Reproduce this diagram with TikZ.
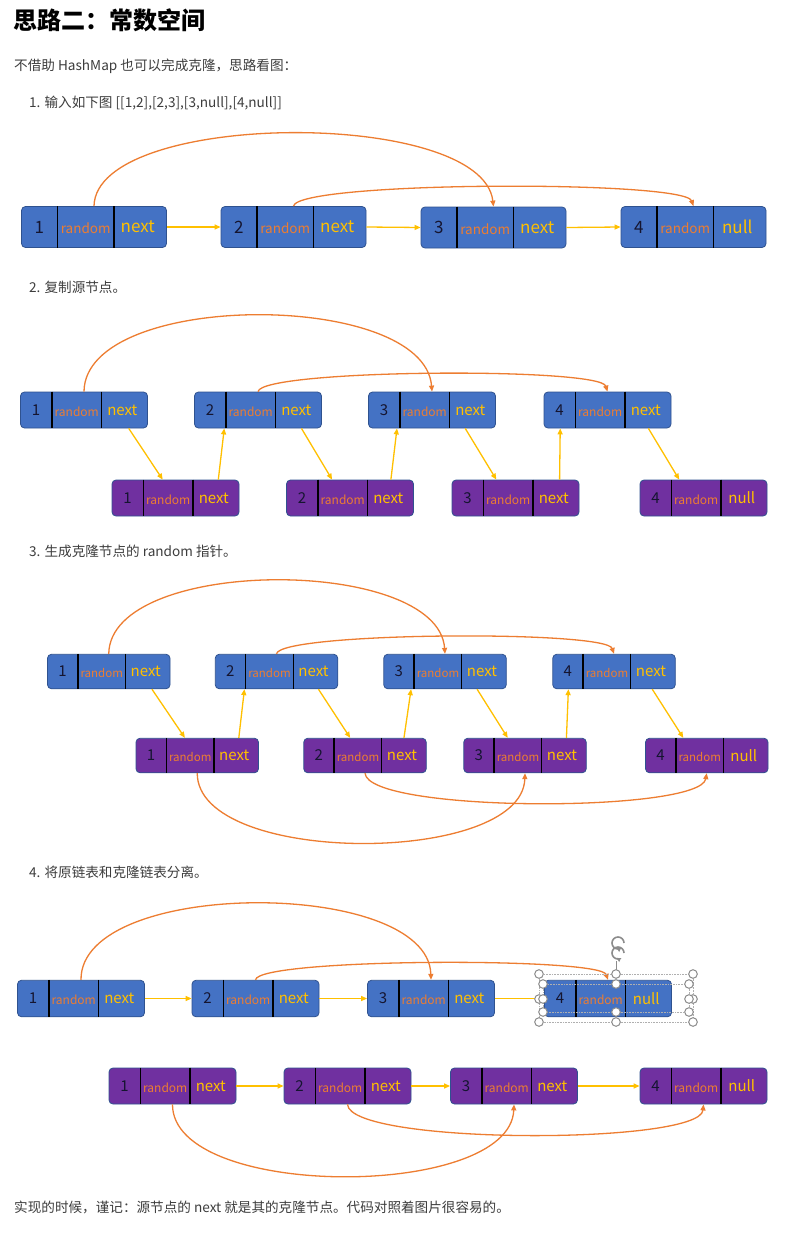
\documentclass[tikz,border=0pt]{standalone}
\usepackage{fontspec}
\newfontfamily\cjk{Noto Sans CJK SC}
\usetikzlibrary{arrows.meta,calc}
\definecolor{bluefill}{HTML}{4472C4}
\definecolor{boxline}{HTML}{2F528F}
\definecolor{purplefill}{HTML}{7030A0}
\definecolor{randc}{HTML}{ED7D31}
\definecolor{nextc}{HTML}{FFC000}
\definecolor{numc}{HTML}{151530}
\definecolor{bodyc}{HTML}{3D3D3D}
\definecolor{handlec}{HTML}{8C8C8C}
\newcommand\fsN{17}
\newcommand\fsR{13.5}
\newcommand\fsX{17}
\tikzset{
  cellbox/.style={draw=boxline, line width=0.8pt, rounded corners=4pt, inner sep=0pt},
  divider/.style={draw=black, line width=1.4pt},
  numlab/.style={font=\cjk\fontsize{\fsN}{\fsN}\selectfont, text=numc, inner sep=0pt},
  randlab/.style={font=\cjk\fontsize{\fsR}{\fsR}\selectfont, text=randc, inner sep=0pt, yshift=-1.5pt},
  nextlab/.style={font=\cjk\fontsize{\fsX}{\fsX}\selectfont, text=nextc, inner sep=0pt},
  nxt/.style={draw=nextc, line width=1.3pt, -{Triangle[length=6pt,width=5pt]}},
  rnd/.style={draw=randc, line width=1.3pt, -{Triangle[length=6pt,width=5pt]}},
  bodytext/.style={font=\cjk\fontsize{13.6}{16}\selectfont, text=bodyc, anchor=west, inner sep=0pt},
  handle/.style={draw=handlec, fill=white, line width=1pt},
  selrect/.style={draw=handlec!70, line width=0.6pt, densely dotted},
  roticon/.style={draw=handlec, line width=1.6pt, -{Triangle[length=3.5pt,width=4.5pt]}},
}
% name, position, width, height, fill, number, last field
\newcommand\LLnode[7]{%
  \node[cellbox, fill=#5, minimum width=#3pt, minimum height=#4pt] (#1) at (#2) {};
  \draw[divider] ($(#1.north west)!0.25!(#1.north east)$) -- ($(#1.south west)!0.25!(#1.south east)$);
  \draw[divider] ($(#1.north west)!0.636!(#1.north east)$) -- ($(#1.south west)!0.636!(#1.south east)$);
  \node[numlab] (#1-num) at ($(#1.west)!0.125!(#1.east)$) {#6};
  \node[randlab] (#1-rand) at ($(#1.west)!0.443!(#1.east)$) {random};
  \node[nextlab] (#1-next) at ($(#1.west)!0.80!(#1.east)$) {#7};
}
\newcommand\Pt[3]{($(#1.#2 west)!#3!(#1.#2 east)$)}
\begin{document}
\begin{tikzpicture}[x=1pt,y=-1pt]
\useasboundingbox (0,0) rectangle (786,1234);
\fill[white] (0,0) rectangle (786,1234);

% ---------- texts ----------
\node[anchor=west, inner sep=0pt, font=\cjk\bfseries\fontsize{24}{28}\selectfont, text=black] (title) at (13,20) {思路二：常数空间};
\node[bodytext] (intro) at (14,66) {不借助 HashMap 也可以完成克隆，思路看图：};
\node[bodytext] (step1) at (29,103) {1. 输入如下图 [[1,2],[2,3],[3,null],[4,null]]};
\node[bodytext] (step2) at (29,287) {2. 复制源节点。};
\node[bodytext] (step3) at (29,551) {3. 生成克隆节点的 random 指针。};
\node[bodytext] (step4) at (29,872) {4. 将原链表和克隆链表分离。};
\node[bodytext] (outro) at (14,1207) {实现的时候，谨记：源节点的 next 就是其的克隆节点。代码对照着图片很容易的。};

% ---------- section 1 ----------
\LLnode{a1}{94,227}{145}{41}{bluefill}{1}{next}
\LLnode{a2}{293.5,227}{145}{41}{bluefill}{2}{next}
\LLnode{a3}{493.5,227.5}{145}{41}{bluefill}{3}{next}
\LLnode{a4}{693.5,227}{145}{41}{bluefill}{4}{null}
\draw[nxt] (a1.east) -- (a2.west);
\draw[nxt] (a2.east) -- (a3.west);
\draw[nxt] (a3.east) -- (a4.west);
\draw[rnd] (a1.north) .. controls (96,110) and (482,108) .. (a3.north);
\draw[rnd] (a2.north) .. controls (298,181) and (684,180) .. (a4.north);

% ---------- section 2 ----------
\renewcommand\fsN{15}\renewcommand\fsR{12}\renewcommand\fsX{15}
\LLnode{b1}{84,410}{127}{36}{bluefill}{1}{next}
\LLnode{b2}{258,410}{127}{36}{bluefill}{2}{next}
\LLnode{b3}{432,410}{127}{36}{bluefill}{3}{next}
\LLnode{b4}{607.5,410}{127}{36}{bluefill}{4}{next}
\LLnode{c1}{175.5,498}{127}{36}{purplefill}{1}{next}
\LLnode{c2}{350,498}{127}{36}{purplefill}{2}{next}
\LLnode{c3}{515.5,498}{127}{36}{purplefill}{3}{next}
\LLnode{c4}{703.5,498}{127}{36}{purplefill}{4}{null}
\draw[nxt] \Pt{b1}{south}{0.85} -- \Pt{c1}{north}{0.40};
\draw[nxt] \Pt{c1}{north}{0.835} -- \Pt{b2}{south}{0.236};
\draw[nxt] \Pt{b2}{south}{0.84} -- \Pt{c2}{north}{0.36};
\draw[nxt] \Pt{c2}{north}{0.82} -- \Pt{b3}{south}{0.226};
\draw[nxt] \Pt{b3}{south}{0.76} -- \Pt{c3}{north}{0.35};
\draw[nxt] \Pt{c3}{north}{0.845} -- \Pt{b4}{south}{0.13};
\draw[nxt] \Pt{b4}{south}{0.82} -- \Pt{c4}{north}{0.31};
\draw[rnd] (b1.north) .. controls (85,290) and (424,290) .. (b3.north);
\draw[rnd] (b2.north) .. controls (262,369) and (600,367) .. (b4.north);

% ---------- section 3 ----------
\renewcommand\fsN{15}\renewcommand\fsR{11.5}\renewcommand\fsX{15}
\LLnode{d1}{108.75,671.5}{122.5}{34.5}{bluefill}{1}{next}
\LLnode{d2}{276.5,671.5}{122.5}{34.5}{bluefill}{2}{next}
\LLnode{d3}{445,671.5}{122.5}{34.5}{bluefill}{3}{next}
\LLnode{d4}{614,671.5}{122.5}{34.5}{bluefill}{4}{next}
\LLnode{e1}{197.25,755.5}{122.5}{34.5}{purplefill}{1}{next}
\LLnode{e2}{365,755.5}{122.5}{34.5}{purplefill}{2}{next}
\LLnode{e3}{525,755.5}{122.5}{34.5}{purplefill}{3}{next}
\LLnode{e4}{706.75,755.5}{122.5}{34.5}{purplefill}{4}{null}
\draw[nxt] \Pt{d1}{south}{0.85} -- \Pt{e1}{north}{0.40};
\draw[nxt] \Pt{e1}{north}{0.837} -- \Pt{d2}{south}{0.24};
\draw[nxt] \Pt{d2}{south}{0.84} -- \Pt{e2}{north}{0.38};
\draw[nxt] \Pt{e2}{north}{0.816} -- \Pt{d3}{south}{0.225};
\draw[nxt] \Pt{d3}{south}{0.76} -- \Pt{e3}{north}{0.36};
\draw[nxt] \Pt{e3}{north}{0.836} -- \Pt{d4}{south}{0.13};
\draw[nxt] \Pt{d4}{south}{0.81} -- \Pt{e4}{north}{0.31};
\draw[rnd] (d1.north) .. controls (110,556) and (438,556) .. (d3.north);
\draw[rnd] (d2.north) .. controls (280,632) and (606,630) .. (d4.north);
\draw[rnd] (e1.south) .. controls (197,866) and (522,866) .. (e3.south);
\draw[rnd] (e2.south) .. controls (368,813) and (700,813) .. (e4.south);

% ---------- section 4 ----------
\renewcommand\fsN{15}\renewcommand\fsR{12}\renewcommand\fsX{15}
\LLnode{f1}{81,998.5}{127}{36.5}{bluefill}{1}{next}
\LLnode{f2}{255.5,998.5}{127}{36.5}{bluefill}{2}{next}
\LLnode{f3}{431,998.5}{127}{36.5}{bluefill}{3}{next}
\draw[nxt] (f1.east) -- (f2.west);
\draw[nxt] (f2.east) -- (f3.west);
\LLnode{f4}{608,998.5}{127}{36.5}{bluefill}{4}{null}
\draw[nxt] (f3.east) -- (f4.west);
\LLnode{g1}{172.5,1086}{127}{36}{purplefill}{1}{next}
\LLnode{g2}{347.5,1086}{127}{36}{purplefill}{2}{next}
\LLnode{g3}{514,1086}{127}{36}{purplefill}{3}{next}
\LLnode{g4}{703.5,1086}{127}{36}{purplefill}{4}{null}
\draw[nxt] (g1.east) -- (g2.west);
\draw[nxt] (g2.east) -- (g3.west);
\draw[nxt] (g3.east) -- (g4.west);
\draw[rnd] (f1.north) .. controls (80,878) and (428,878) .. (f3.north);
\draw[rnd] (f2.north) .. controls (258,958) and (600,957) .. (f4.north);
\draw[rnd] (g1.south) .. controls (172,1200) and (510,1200) .. (g3.south);
\draw[rnd] (g2.south) .. controls (350,1145) and (700,1145) .. (g4.south);

% selection handles around f4
\draw[selrect] (539,974) rectangle (693,1022);
\draw[selrect] (543,984) rectangle (689,1012);
\draw[handlec, line width=0.8pt] (616,961) -- (616,974);
\foreach \p in {(539,974),(616,974),(693,974),(539,999),(693,999),(539,1022),(616,1022),(693,1022),
                (543,984),(616,984),(689,984),(543,999),(689,999),(543,1012),(616,1012),(689,1012)}
  \draw[handle] \p circle (4.3);
\draw[roticon] (624,943) arc[start angle=0, end angle=300, radius=6pt];
\draw[roticon] (624,953) arc[start angle=0, end angle=300, radius=6pt];
\end{tikzpicture}
\end{document}
